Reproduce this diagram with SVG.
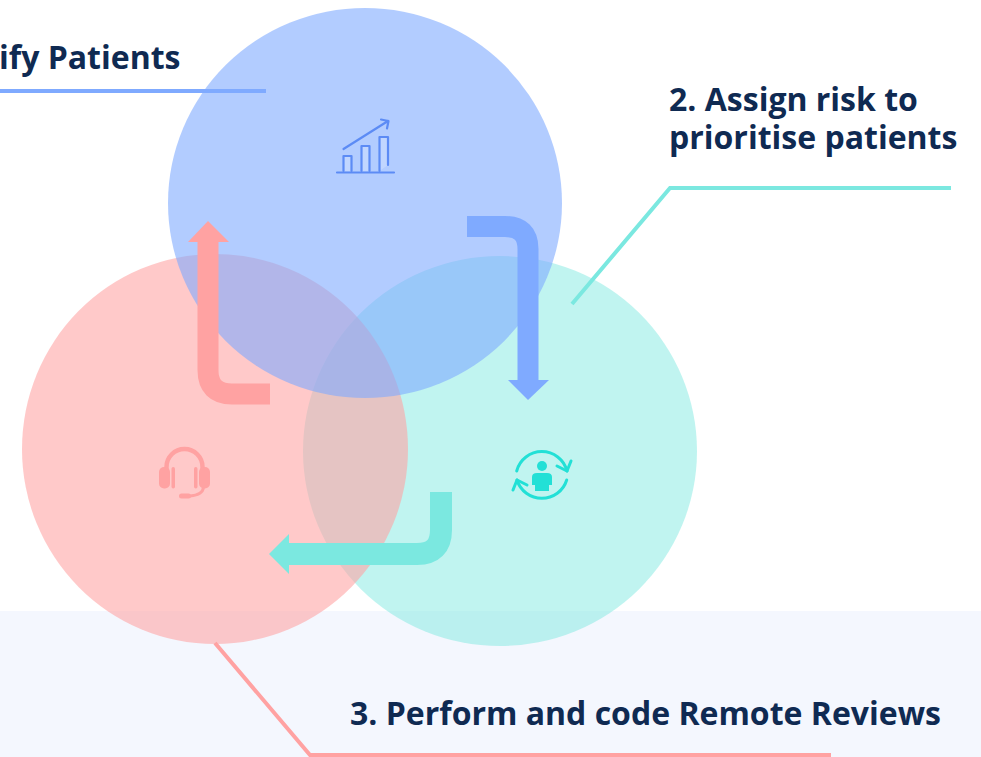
<svg xmlns="http://www.w3.org/2000/svg" width="981" height="757" viewBox="0 0 981 757">
<style>
.t{font-family:"Open Sans","Noto Sans",sans-serif;font-weight:700;font-size:32px;fill:#0f2a52}
.c{fill:none;stroke-width:4}
.i{fill:none;stroke-linecap:round;stroke-linejoin:round}
</style>
<rect width="981" height="757" fill="#fff"/>
<rect id="band" x="0" y="611" width="981" height="146" fill="#f4f7fe"/>
<g id="node-2"><ellipse cx="500" cy="451" rx="197" ry="195" fill="#7be8e0" fill-opacity=".48"/></g>
<g id="node-3"><ellipse cx="215" cy="449" rx="193" ry="195" fill="#ffa2a2" fill-opacity=".58"/></g>
<g id="node-1"><ellipse cx="365" cy="203" rx="197" ry="195" fill="#7faaff" fill-opacity=".6"/></g>
<g id="connectors">
<path class="c" d="M0 91H266" stroke="#7faaff"/>
<path class="c" d="M572 304L670 188H951" stroke="#7be8e0"/>
<path class="c" d="M215 643L310 755H831" stroke="#ffa2a2"/>
<path d="M467 226.500H505Q528 226.500 528 249V380" fill="none" stroke="#7faaff" stroke-width="21"/>
<path d="M508 380H549L528 400Z" fill="#7faaff"/>
<path d="M441 492V530Q441 554 417 554H288" fill="none" stroke="#7be8e0" stroke-width="22"/>
<path d="M289 534V574L269 554Z" fill="#7be8e0"/>
<path d="M270 394H232Q208 394 208 370V241" fill="none" stroke="#ffa2a2" stroke-width="21"/>
<path d="M188 242H229L208 221Z" fill="#ffa2a2"/>
</g>
<g id="icon-1" class="i" stroke="#5c8bf5" stroke-width="2.200">
<path fill="#fff" fill-opacity=".2" d="M343.500 171V156H351.500V171M361.500 171V146H369.500V171M379.500 171V137H388V165"/>
<path d="M337 172.500H394M343.500 149L388 121M381 119.500L388.500 121L387 128.500"/>
</g>
<g id="icon-2">
<g class="i" stroke="#22e0d6" stroke-width="3">
<path d="M516.700 471A26 26 0 0 1 567 471M566.700 480A26 26 0 0 1 517 480"/>
<path d="M557 466L567 471L571 461M513 490L517 480L527 485"/>
</g>
<circle cx="542" cy="466" r="5" fill="#22e0d6"/>
<path d="M532 477Q532 473 537 473H547Q552 473 552 477V485H549V491H535V485H532Z" fill="#22e0d6"/>
</g>
<g id="icon-3" fill="#ffa2a2">
<path class="i" stroke="#ffa2a2" stroke-width="4.500" d="M166.500 469V467A18 18 0 0 1 202.500 467V469"/>
<path class="i" stroke="#ffa2a2" stroke-width="3" d="M203.500 487Q203 495 190 496"/>
<rect x="159" y="467" width="11" height="21.500" rx="5"/>
<rect x="199" y="467" width="11" height="21.500" rx="5"/>
<rect x="171.500" y="467" width="3.500" height="21.500" rx="1.700"/>
<rect x="194" y="467" width="3.500" height="21.500" rx="1.700"/>
<rect x="179" y="493.500" width="12" height="5" rx="2.500"/>
</g>
<text class="t" x="-1" y="69">ify Patients</text>
<text class="t" x="669" y="111">2. Assign risk to</text>
<text class="t" x="669" y="149">prioritise patients</text>
<text class="t" x="350" y="725">3. Perform and code Remote Reviews</text>
</svg>
